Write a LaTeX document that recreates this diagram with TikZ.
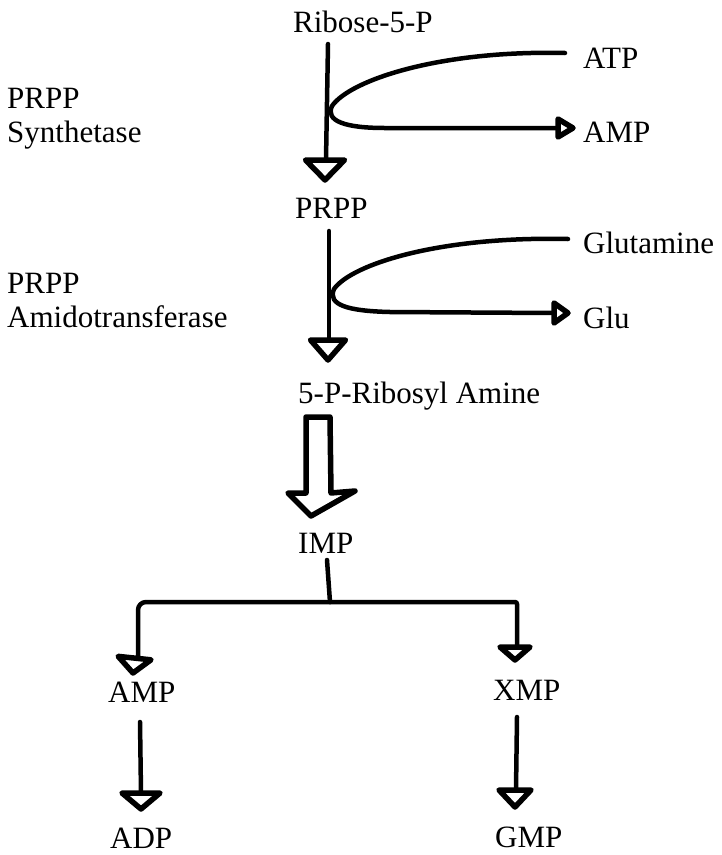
\documentclass[tikz,border=0pt]{standalone}
\usepackage{fontspec}
\setmainfont{Liberation Serif}
\usetikzlibrary{calc}
\begin{document}
\begin{tikzpicture}[x=1pt,y=-1pt,
  lbl/.style={inner sep=0pt,anchor=base west,font=\fontsize{31}{32}\selectfont},
  enz/.style={inner sep=0pt,anchor=north west,align=left,font=\fontsize{31}{34}\selectfont},
  ln/.style={line width=4.5pt,line cap=round,line join=round},
  hd/.style={line width=5.5pt,line join=round},
  pics/dhead/.style n args={2}{code={\draw[hd] (0,0) -- (-#1/2,-#2) -- (#1/2,-#2) -- cycle;}},
  pics/rhead/.style n args={2}{code={\draw[hd] (0,0) -- (-#2,-#1/2) -- (-#2,#1/2) -- cycle;}}]
\useasboundingbox (0,0) rectangle (722,855);
% texts
\node[lbl] (ribose) at (293,32) {Ribose-5-P};
\node[lbl] (atp) at (583,68) {ATP};
\node[lbl] (amp1) at (583,142) {AMP};
\node[lbl] (prpp) at (295,218) {PRPP};
\node[lbl] (gln) at (583,253) {Glutamine};
\node[lbl] (glu) at (583,328) {Glu};
\node[lbl] (amine) at (298,403) {5-P-Ribosyl Amine};
\node[lbl] (imp) at (298,553) {IMP};
\node[lbl] (amp2) at (108,702) {AMP};
\node[lbl] (xmp) at (493,700) {XMP};
\node[lbl] (adp) at (110,848) {ADP};
\node[lbl] (gmp) at (495,847) {GMP};
\node[enz] (enz1) at (7,88) {PRPP\\Synthetase};
\node[enz] (enz2) at (7,273) {PRPP\\Amidotransferase};
% coordinates (ends of connectors = backs of the arrow heads)
\coordinate (r1) at (328,44);
\coordinate (r2) at (326,160);
\coordinate (atpend) at (565,53);
\coordinate (amp1b) at (558,128);
\coordinate (p1) at (329,231);
\coordinate (p2) at (329,340);
\coordinate (glnend) at (568,239);
\coordinate (glub) at (554,313);
\coordinate (ba) at (306,417);
\coordinate (i1) at (327,560);
\coordinate (junc) at (330,602);
\coordinate (amp2b) at (138,658);
\coordinate (xmpb) at (517,647);
\coordinate (a1) at (140,722);
\coordinate (a2) at (141,793);
\coordinate (x1) at (517,717);
\coordinate (x2) at (516,790);
% Ribose-5-P -> PRPP
\draw[ln] (r1) -- (r2);
\pic at (325,180) {dhead={39}{20}};
\draw[ln] (atpend) .. controls (440,50) and (350,80) .. (332,106)
  .. controls (325,121) and (345,128) .. (385,128) -- (amp1b);
\pic at (573,128) {rhead={18}{15}};
% PRPP -> 5-P-Ribosyl Amine
\draw[ln] (p1) -- (p2);
\pic at (328,360) {dhead={35}{20}};
\draw[ln] (glnend) .. controls (440,236) and (352,264) .. (334,289)
  .. controls (327,305) and (348,311) .. (390,312) -- (glub);
\pic at (568,313) {rhead={20}{14}};
% big hollow arrow
\draw[line width=5.5pt,line join=round] (ba) -- ++(24,0) -- ++(1,76) -- ++(24,-2)
  -- ++(-44,25) -- ++(-23,-23) -- ++(18,0) -- cycle;
% IMP branch
\draw[ln] (i1) -- (junc);
\draw[ln,rounded corners=8pt] (junc) -| (amp2b);
\draw[ln,rounded corners=2pt] (junc) -| (xmpb);
\pic[rotate=-6] at (133,673) {dhead={33}{15}};
\pic at (515,660) {dhead={30}{13}};
% AMP -> ADP, XMP -> GMP
\draw[ln] (a1) -- (a2);
\pic at (141,809) {dhead={38}{16}};
\draw[ln] (x1) -- (x2);
\pic at (515,807) {dhead={32}{17}};
\end{tikzpicture}
\end{document}
